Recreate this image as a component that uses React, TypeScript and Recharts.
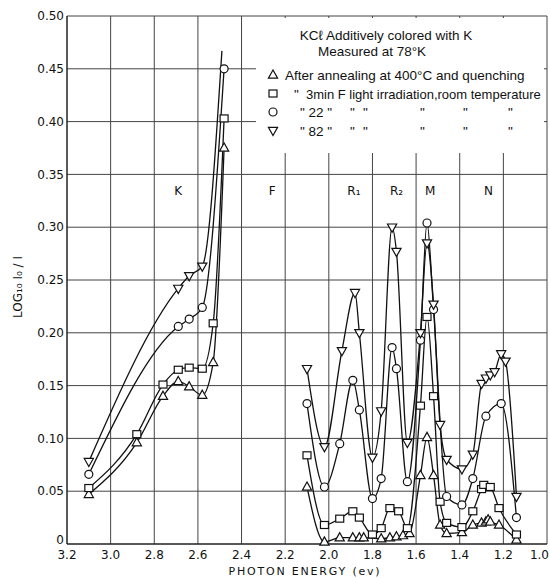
import React from 'react';
import { LineChart, Line, XAxis, YAxis, CartesianGrid, ReferenceDot } from 'recharts';

// photon energy (eV) and log10(I0/I), K band group on the left
const triKE = [3.1, 2.88, 2.76, 2.69, 2.64, 2.58, 2.53, 2.48];
const triKV = [0.047, 0.096, 0.14, 0.154, 0.149, 0.141, 0.172, 0.375];
const sqKE = [3.1, 2.88, 2.76, 2.69, 2.64, 2.58, 2.53, 2.48];
const sqKV = [0.053, 0.104, 0.151, 0.165, 0.167, 0.166, 0.209, 0.403];
const circKE = [3.1, 2.69, 2.64, 2.58, 2.48];
const circKV = [0.066, 0.206, 0.213, 0.224, 0.45];
const downKE = [3.1, 2.69, 2.64, 2.58, 2.49];
const downKV = [0.078, 0.242, 0.254, 0.263, 0.467];

// R, M, N bands on the right
const triRE = [2.1, 2.02, 1.95, 1.89, 1.86, 1.84, 1.76, 1.72, 1.69, 1.66, 1.63, 1.58, 1.55, 1.52, 1.49, 1.46, 1.39, 1.34, 1.3, 1.28, 1.27, 1.26, 1.22, 1.14];
const triRV = [0.054, 0.002, 0.006, 0.006, 0.006, 0.006, 0.005, 0.006, 0.007, 0.008, 0.01, 0.065, 0.101, 0.065, 0.018, 0.01, 0.011, 0.018, 0.02, 0.021, 0.023, 0.021, 0.018, 0.004];
const sqRE = [2.1, 2.02, 1.95, 1.89, 1.86, 1.8, 1.76, 1.72, 1.68, 1.64, 1.58, 1.55, 1.52, 1.49, 1.46, 1.39, 1.34, 1.3, 1.29, 1.26, 1.22, 1.14];
const sqRV = [0.084, 0.018, 0.024, 0.031, 0.025, 0.009, 0.015, 0.034, 0.031, 0.015, 0.131, 0.215, 0.14, 0.04, 0.02, 0.016, 0.031, 0.052, 0.056, 0.054, 0.034, 0.009];
const circRE = [2.1, 2.02, 1.95, 1.89, 1.86, 1.8, 1.76, 1.71, 1.69, 1.64, 1.58, 1.55, 1.52, 1.46, 1.39, 1.34, 1.28, 1.21, 1.14];
const circRV = [0.133, 0.054, 0.095, 0.155, 0.127, 0.043, 0.062, 0.186, 0.166, 0.059, 0.193, 0.304, 0.222, 0.045, 0.037, 0.062, 0.121, 0.133, 0.025];
const downRE = [2.1, 2.02, 1.94, 1.88, 1.86, 1.8, 1.76, 1.71, 1.69, 1.64, 1.58, 1.55, 1.52, 1.49, 1.46, 1.39, 1.34, 1.3, 1.28, 1.26, 1.24, 1.21, 1.19, 1.14];
const downRV = [0.166, 0.092, 0.183, 0.238, 0.2, 0.082, 0.126, 0.3, 0.277, 0.096, 0.2, 0.285, 0.227, 0.113, 0.08, 0.071, 0.085, 0.152, 0.157, 0.16, 0.163, 0.18, 0.173, 0.045];

// the 82 min curve runs on past its last measured point in the K band
const downKUnmarked = [2.49];

const bandNames = ['K', 'F', 'R₁', 'R₂', 'M', 'N'];
const bandE = [2.69, 2.26, 1.885, 1.69, 1.535, 1.268];

const energyTicks = [3.2, 3.0, 2.8, 2.6, 2.4, 2.2, 2.0, 1.8, 1.6, 1.4, 1.2, 1.0];
const valueTicks = [0, 0.05, 0.1, 0.15, 0.2, 0.25, 0.3, 0.35, 0.4, 0.45, 0.5];

const legendRows = [
  { kind: 'tri', lead: '', text: 'After annealing at 400°C and quenching' },
  { kind: 'sq', lead: '"', text: '3min F light irradiation,room temperature' },
  { kind: 'circ', lead: '" 22 "', text: '' },
  { kind: 'down', lead: '" 82 "', text: '' },
];

const pts = (es: number[], vs: number[], unmarked: number[] = []) =>
  es.map((e, i) => ({ e, v: vs[i], hide: unmarked.includes(e) }));

const Marker = ({ kind, x, y }: { kind: string; x: number; y: number }) => {
  const st = { fill: '#fff', stroke: '#111', strokeWidth: 1.2 };
  if (kind === 'tri') return <polygon points={`${x},${y - 5} ${x - 4.6},${y + 3.2} ${x + 4.6},${y + 3.2}`} {...st} />;
  if (kind === 'sq') return <rect x={x - 4} y={y - 3.5} width={8} height={7} {...st} />;
  if (kind === 'circ') return <circle cx={x} cy={y} r={4} {...st} />;
  return <polygon points={`${x - 4.6},${y - 3.2} ${x + 4.6},${y - 3.2} ${x},${y + 5}`} {...st} />;
};

const makeDot = (kind: string) => (props: any) => {
  const { cx, cy, payload, index } = props;
  if (cx == null || cy == null || payload.v == null || payload.hide) return <g key={`${kind}-${index}`} />;
  return (
    <g key={`${kind}-${index}`}>
      <Marker kind={kind} x={cx} y={cy} />
    </g>
  );
};

const series = [
  { id: 'triK', kind: 'tri', data: pts(triKE, triKV) },
  { id: 'sqK', kind: 'sq', data: pts(sqKE, sqKV) },
  { id: 'circK', kind: 'circ', data: pts(circKE, circKV) },
  { id: 'downK', kind: 'down', data: pts(downKE, downKV, downKUnmarked) },
  { id: 'triR', kind: 'tri', data: pts(triRE, triRV) },
  { id: 'sqR', kind: 'sq', data: pts(sqRE, sqRV) },
  { id: 'circR', kind: 'circ', data: pts(circRE, circRV) },
  { id: 'downR', kind: 'down', data: pts(downRE, downRV) },
];

const dittoX = [350, 363, 420, 463, 508];

const font = '"DejaVu Sans", sans-serif';

const XTick = (props: any) => {
  const { x, y, payload } = props;
  const last = payload.value === 1.0;
  return (
    <text x={last ? x + 3 : x} y={y} dy="0.71em" textAnchor={last ? 'end' : 'middle'} fontSize={12} fill="#111" fontFamily={font}>
      {Number(payload.value).toFixed(1)}
    </text>
  );
};

const YTick = (props: any) => {
  const { x, y, payload } = props;
  const v = payload.value;
  return (
    <text x={x} y={v === 0 ? y - 4 : y} dy="0.355em" textAnchor="end" fontSize={12} fill="#111" fontFamily={font}>
      {v === 0 ? '0' : Number(v).toFixed(2)}
    </text>
  );
};

export default function App() {
  return (
    <div style={{ position: 'absolute', left: 0, top: 0, width: 550, height: 578, background: '#fff' }}>
      <LineChart width={550} height={578} margin={{ top: 16, right: 3, bottom: 0, left: 7 }}>
        <CartesianGrid stroke="#444" strokeWidth={1} />
        <XAxis
          type="number"
          dataKey="e"
          domain={[1.0, 3.2]}
          reversed
          ticks={energyTicks}
          tickLine={false}
          tickSize={0}
          tickMargin={6}
          height={34}
          axisLine={{ stroke: '#111' }}
          tick={<XTick />}
          label={() => (
            <text x={305} y={575} textAnchor="middle" fontSize={11} letterSpacing={1.8} fill="#111" fontFamily={font}>
              PHOTON ENERGY (ev)
            </text>
          )}
        />
        <YAxis
          type="number"
          domain={[0, 0.5]}
          ticks={valueTicks}
          tickLine={false}
          tickSize={0}
          tickMargin={3}
          width={60}
          axisLine={{ stroke: '#111' }}
          tick={<YTick />}
          label={() => (
            <text x={22} y={287} transform="rotate(-90, 22, 287)" textAnchor="middle" fontSize={12} fill="#111" fontFamily={font}>
              LOG₁₀ I₀ / I
            </text>
          )}
        />
        {bandNames.map((name, i) => (
          <ReferenceDot
            key={name}
            x={bandE[i]}
            y={0.335}
            r={0}
            stroke="none"
            fill="none"
            label={{ value: name, position: 'center', fontSize: 12, fill: '#111', fontFamily: font }}
          />
        ))}
        {series.map((s) => (
          <Line
            key={s.id}
            data={s.data}
            dataKey="v"
            type="monotone"
            stroke="#111"
            strokeWidth={1.3}
            dot={makeDot(s.kind)}
            activeDot={false}
            isAnimationActive={false}
          />
        ))}
      </LineChart>
      <svg
        width={288}
        height={135}
        style={{ position: 'absolute', left: 256, top: 18, background: '#fff', overflow: 'visible' }}
      >
        <g fontFamily='"Liberation Sans", Arial, sans-serif' fontSize={13.5} fill="#111">
          <text x={130} y={22} textAnchor="middle">KCℓ Additively colored with K</text>
          <text x={116} y={38} textAnchor="middle">Measured at 78°K</text>
          {legendRows.map((r, i) => {
            const cy = 57 + i * 18.5;
            return (
              <g key={r.kind}>
                <Marker kind={r.kind} x={17} y={cy} />
                {r.lead && <text x={i === 1 ? 38 : 44} y={cy + 5}>{r.lead}</text>}
                {r.text && (
                  <text x={i === 0 ? 29 : 50} y={cy + 5} fontSize={i === 1 ? 13 : 13.5}>
                    {r.text}
                  </text>
                )}
                {!r.text &&
                  dittoX.map((dx) => (
                    <text key={dx} x={dx - 256} y={cy + 5}>"</text>
                  ))}
              </g>
            );
          })}
        </g>
      </svg>
    </div>
  );
}
